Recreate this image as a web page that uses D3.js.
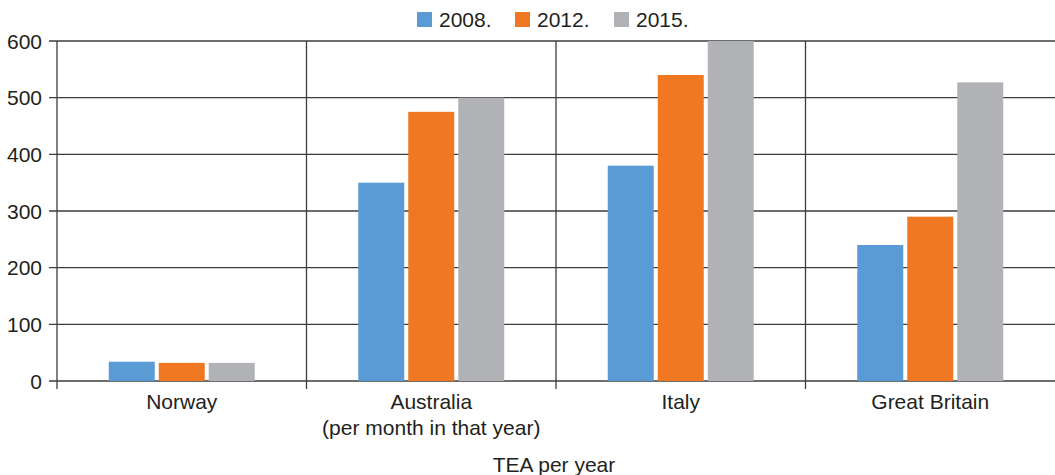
<!DOCTYPE html>
<html>
<head>
<meta charset="utf-8">
<script src="https://cdn.jsdelivr.net/npm/d3@7"></script>
<style>
  body { margin: 0; background: #fff; }
  text { font-family: "Liberation Sans", Arial, sans-serif; fill: #231f20; }
</style>
</head>
<body>
<svg id="chart" width="1055" height="475"></svg>
<script>
// Tourist arrivals per year (TEA), three survey years by country
const categories = ["Norway", "Australia|(per month in that year)", "Italy", "Great Britain"];
const years = ["2008.", "2012.", "2015."];
const values2008 = [34, 350, 380, 240];
const values2012 = [32, 475, 540, 290];
const values2015 = [32, 500, 600, 527];
const yTicks = [0, 100, 200, 300, 400, 500, 600];
const colors = ["#5b9bd5", "#f07823", "#b1b2b6"];
const axisTitle = "TEA per year";

const series = [values2008, values2012, values2015];

const svg = d3.select("#chart");
const margin = { left: 57, right: 0, top: 41, bottom: 94 };
const W = 1055, H = 475;
const fs = 21;

const x = d3.scaleBand().domain(categories).range([margin.left, W]).paddingInner(0).paddingOuter(0);
const xs = d3.scaleBand().domain(years).range([0, x.bandwidth()]).paddingInner(0.08).paddingOuter(1.035);
const y = d3.scaleLinear().domain([0, 600]).range([H - margin.bottom, margin.top]);

const gridColor = "#3d3d3d";

// horizontal gridlines with left tick stubs
svg.append("g").selectAll("line").data(yTicks).join("line")
  .attr("x1", margin.left - 8).attr("x2", W)
  .attr("y1", d => y(d)).attr("y2", d => y(d))
  .attr("stroke", gridColor).attr("stroke-width", 1.3);

// y tick labels
svg.append("g").selectAll("text").data(yTicks).join("text")
  .attr("x", 42).attr("y", d => y(d)).attr("dy", "0.36em")
  .attr("text-anchor", "end").attr("font-size", fs).text(d => d);

// category separators, extending below the baseline as ticks
const bounds = categories.map(c => x(c));
svg.append("g").selectAll("line").data(bounds).join("line")
  .attr("x1", d => d).attr("x2", d => d)
  .attr("y1", y(600)).attr("y2", y(0) + 8)
  .attr("stroke", gridColor).attr("stroke-width", 1.3);

// bars
categories.forEach((c, ci) => {
  svg.append("g").selectAll("rect").data(years).join("rect")
    .attr("x", (yr) => x(c) + xs(yr))
    .attr("width", xs.bandwidth())
    .attr("y", (yr, i) => y(series[i][ci]))
    .attr("height", (yr, i) => y(0) - y(series[i][ci]))
    .attr("fill", (yr, i) => colors[i]);
});

// category labels
const lab = svg.append("g").selectAll("text").data(categories).join("text")
  .attr("text-anchor", "middle").attr("font-size", fs)
  .attr("x", d => x(d) + x.bandwidth() / 2).attr("y", 409);
lab.each(function (d) {
  const parts = d.split("|");
  const t = d3.select(this);
  parts.forEach((p, i) => {
    t.append("tspan").attr("x", x(d) + x.bandwidth() / 2).attr("dy", i === 0 ? 0 : 26).text(p);
  });
});

// axis title
svg.append("text").attr("x", 554).attr("y", 472).attr("text-anchor", "middle")
  .attr("font-size", fs).text(axisTitle);

// legend
const legendX = [417, 515, 614];
const lg = svg.append("g").selectAll("g").data(years).join("g")
  .attr("transform", (d, i) => `translate(${legendX[i]},12)`);
lg.append("rect").attr("width", 15).attr("height", 15).attr("fill", (d, i) => colors[i]);
lg.append("text").attr("x", 22).attr("y", 15).attr("font-size", fs).text(d => d);
</script>
</body>
</html>
